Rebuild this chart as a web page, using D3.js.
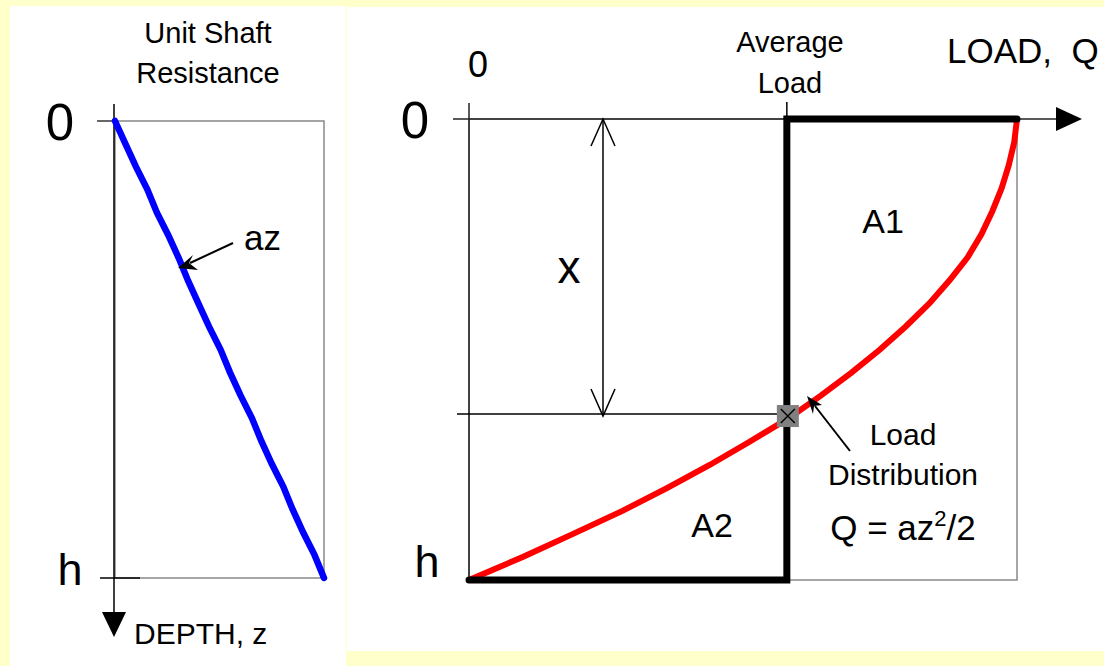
<!DOCTYPE html>
<html>
<head>
<meta charset="utf-8">
<script src="https://cdn.jsdelivr.net/npm/d3@7"></script>
<style>
  body { margin: 0; background: #ffffcc; }
  svg { display: block; font-family: "Liberation Sans", Arial, sans-serif; }
</style>
</head>
<body>
<svg width="1104" height="666"></svg>
<script>
// depth is z/h, resistance and load are fractions of their maximum
const shaftDepth = [0, 0.05, 0.1, 0.15, 0.2, 0.25, 0.3, 0.35, 0.4, 0.45, 0.5, 0.55, 0.6, 0.65, 0.7, 0.75, 0.8, 0.85, 0.9, 0.95, 1.0];
const shaftResist = [0, 0.05, 0.1, 0.155, 0.2, 0.255, 0.305, 0.35, 0.4, 0.45, 0.505, 0.55, 0.6, 0.655, 0.7, 0.75, 0.805, 0.85, 0.9, 0.955, 1.0];

const loadDepth = [0, 0.05, 0.1, 0.15, 0.2, 0.25, 0.3, 0.35, 0.4, 0.45, 0.5, 0.55, 0.6, 0.65, 0.7, 0.75, 0.8, 0.85, 0.9, 0.95, 1.0];
const loadValue = [1.0, 0.995, 0.985, 0.972, 0.955, 0.935, 0.91, 0.877, 0.84, 0.797, 0.75, 0.698, 0.642, 0.582, 0.512, 0.44, 0.362, 0.28, 0.19, 0.098, 0.0];

const averageLoad = 0.58;
const crossDepth = 0.64;

const svg = d3.select("svg");

// panels
svg.append("rect").attr("x", 10).attr("y", 6).attr("width", 336).attr("height", 660).attr("fill", "#fff");
svg.append("rect").attr("x", 347).attr("y", 7).attr("width", 757).attr("height", 644).attr("fill", "#fff");

// ---------- left chart: unit shaft resistance ----------
const lx = d3.scaleLinear().domain([0, 1]).range([115, 324]);
const ly = d3.scaleLinear().domain([0, 1]).range([121, 578]);
const L = svg.append("g");

L.append("rect").attr("x", lx(0)).attr("y", ly(0))
  .attr("width", lx(1) - lx(0)).attr("height", ly(1) - ly(0))
  .attr("fill", "none").attr("stroke", "#888").attr("stroke-width", 1.5);

L.append("line").attr("x1", lx(0) - 1).attr("x2", lx(0) - 1).attr("y1", 104).attr("y2", 615)
  .attr("stroke", "#000").attr("stroke-width", 1.5);
L.append("path").attr("d", `M${lx(0) - 13},612 L${lx(0) + 11},612 L${lx(0) - 1},637 Z`).attr("fill", "#000");
L.append("line").attr("x1", 97).attr("x2", lx(0)).attr("y1", ly(0)).attr("y2", ly(0))
  .attr("stroke", "#000").attr("stroke-width", 1.2);
L.append("line").attr("x1", 100).attr("x2", 140).attr("y1", ly(1)).attr("y2", ly(1))
  .attr("stroke", "#000").attr("stroke-width", 1.5);

L.append("path")
  .datum(d3.zip(shaftResist, shaftDepth))
  .attr("d", d3.line().x(d => lx(d[0])).y(d => ly(d[1])))
  .attr("fill", "none").attr("stroke", "#0000ff").attr("stroke-width", 6.5)
  .attr("stroke-linecap", "round");

L.append("text").attr("x", 208).attr("y", 43).attr("text-anchor", "middle").attr("font-size", 29).text("Unit Shaft");
L.append("text").attr("x", 208).attr("y", 83).attr("text-anchor", "middle").attr("font-size", 29).text("Resistance");
L.append("text").attr("x", 60).attr("y", 140).attr("text-anchor", "middle").attr("font-size", 51).text("0");
L.append("text").attr("x", 70).attr("y", 585).attr("text-anchor", "middle").attr("font-size", 45).text("h");
L.append("text").attr("x", 134).attr("y", 644).attr("font-size", 30).text("DEPTH, z");
L.append("text").attr("x", 244).attr("y", 250).attr("font-size", 35).text("az");

// arrow to blue line
L.append("line").attr("x1", 233).attr("y1", 243).attr("x2", 190).attr("y2", 263)
  .attr("stroke", "#000").attr("stroke-width", 2);
L.append("path").attr("d", "M178,268 L193,255 L189,263 L198,270 Z").attr("fill", "#000");

// ---------- right chart: load distribution ----------
const rx = d3.scaleLinear().domain([0, 1]).range([469, 1017]);
const ry = d3.scaleLinear().domain([0, 1]).range([119, 580]);
const R = svg.append("g");

R.append("rect").attr("x", rx(0)).attr("y", ry(0))
  .attr("width", rx(1) - rx(0)).attr("height", ry(1) - ry(0))
  .attr("fill", "none").attr("stroke", "#888").attr("stroke-width", 1.5);

// axes
R.append("line").attr("x1", 453).attr("x2", 1060).attr("y1", ry(0)).attr("y2", ry(0))
  .attr("stroke", "#222").attr("stroke-width", 1.5);
R.append("path").attr("d", `M1056,${ry(0) - 12} L1082,${ry(0)} L1056,${ry(0) + 12} Z`).attr("fill", "#000");
R.append("line").attr("x1", rx(0)).attr("x2", rx(0)).attr("y1", 103).attr("y2", ry(1))
  .attr("stroke", "#222").attr("stroke-width", 1.5);
R.append("line").attr("x1", rx(averageLoad)).attr("x2", rx(averageLoad)).attr("y1", 102).attr("y2", ry(0))
  .attr("stroke", "#000").attr("stroke-width", 1.5);

// depth x dimension
const dimX = 603;
R.append("line").attr("x1", 457).attr("x2", rx(averageLoad)).attr("y1", ry(crossDepth)).attr("y2", ry(crossDepth))
  .attr("stroke", "#000").attr("stroke-width", 1.5);
R.append("line").attr("x1", dimX).attr("x2", dimX).attr("y1", ry(0)).attr("y2", ry(crossDepth))
  .attr("stroke", "#000").attr("stroke-width", 1.5);
R.append("path").attr("d", `M${dimX - 12},${ry(0) + 27} L${dimX},${ry(0)} L${dimX + 12},${ry(0) + 27}`)
  .attr("fill", "none").attr("stroke", "#000").attr("stroke-width", 1.5);
R.append("path").attr("d", `M${dimX - 12},${ry(crossDepth) - 25} L${dimX},${ry(crossDepth) + 2} L${dimX + 12},${ry(crossDepth) - 25}`)
  .attr("fill", "none").attr("stroke", "#000").attr("stroke-width", 1.5);

// load distribution curve
R.append("path")
  .datum(d3.zip(loadValue, loadDepth))
  .attr("d", d3.line().x(d => rx(d[0])).y(d => ry(d[1])))
  .attr("fill", "none").attr("stroke", "#ff0000").attr("stroke-width", 6)
  .attr("stroke-linecap", "round");

// average load (thick black)
R.append("path")
  .attr("d", `M${rx(1)},${ry(0)} L${rx(averageLoad)},${ry(0)} L${rx(averageLoad)},${ry(1)} L${rx(0)},${ry(1)}`)
  .attr("fill", "none").attr("stroke", "#000").attr("stroke-width", 7)
  .attr("stroke-linecap", "round").attr("stroke-linejoin", "miter");

// crossing marker
const mx = rx(averageLoad) + 1, my = ry(crossDepth) + 2;
R.append("rect").attr("x", mx - 11).attr("y", my - 11).attr("width", 22).attr("height", 22).attr("fill", "#808080");
R.append("path").attr("d", `M${mx - 7},${my - 7} L${mx + 7},${my + 7} M${mx + 7},${my - 7} L${mx - 7},${my + 7}`)
  .attr("stroke", "#000").attr("stroke-width", 1.5);

// arrow to curve
R.append("line").attr("x1", 850).attr("y1", 451).attr("x2", 815).attr("y2", 406)
  .attr("stroke", "#000").attr("stroke-width", 2);
R.append("path").attr("d", "M807,396 L822,405 L814,406 L813,414 Z").attr("fill", "#000");

// labels
R.append("text").attr("x", 415).attr("y", 138).attr("text-anchor", "middle").attr("font-size", 51).text("0");
R.append("text").attr("x", 427).attr("y", 577).attr("text-anchor", "middle").attr("font-size", 45).text("h");
R.append("text").attr("x", 478).attr("y", 77).attr("text-anchor", "middle").attr("font-size", 36).text("0");
R.append("text").attr("x", 790).attr("y", 52).attr("text-anchor", "middle").attr("font-size", 29).text("Average");
R.append("text").attr("x", 790).attr("y", 93).attr("text-anchor", "middle").attr("font-size", 29).text("Load");
R.append("text").attr("x", 947).attr("y", 63).attr("font-size", 35).attr("xml:space", "preserve").text("LOAD,  Q");
R.append("text").attr("x", 569).attr("y", 283).attr("text-anchor", "middle").attr("font-size", 46).text("x");
R.append("text").attr("x", 883).attr("y", 233).attr("text-anchor", "middle").attr("font-size", 34).text("A1");
R.append("text").attr("x", 712).attr("y", 537).attr("text-anchor", "middle").attr("font-size", 34).text("A2");
R.append("text").attr("x", 903).attr("y", 445).attr("text-anchor", "middle").attr("font-size", 30).text("Load");
R.append("text").attr("x", 903).attr("y", 485).attr("text-anchor", "middle").attr("font-size", 30).text("Distribution");
const q = R.append("text").attr("x", 903).attr("y", 540).attr("text-anchor", "middle").attr("font-size", 35);
q.append("tspan").text("Q = az");
q.append("tspan").attr("font-size", 22).attr("dy", -14).text("2");
q.append("tspan").attr("dy", 14).text("/2");
</script>
</body>
</html>
